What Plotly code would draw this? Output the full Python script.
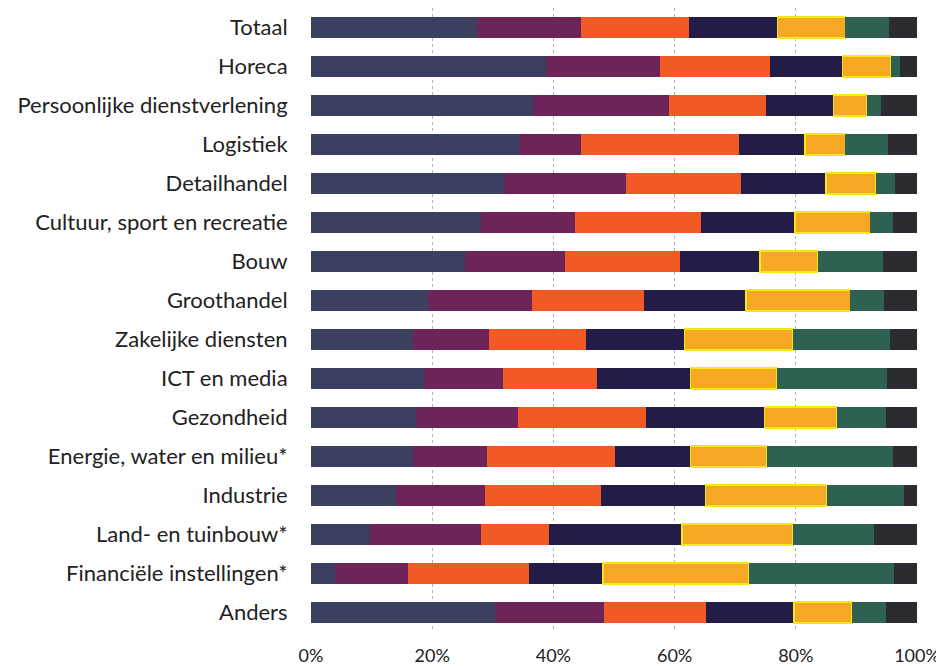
import plotly.graph_objects as go

categories = [
    "Totaal", "Horeca", "Persoonlijke dienstverlening", "Logistiek", "Detailhandel",
    "Cultuur, sport en recreatie", "Bouw", "Groothandel", "Zakelijke diensten",
    "ICT en media", "Gezondheid", "Energie, water en milieu*", "Industrie",
    "Land- en tuinbouw*", "Financiële instellingen*", "Anders",
]

s1 = [27.4, 38.8, 36.6, 34.4, 31.9, 28.1, 25.4, 19.3, 16.8, 18.7, 17.4, 16.8, 14.1, 9.8, 3.9, 30.4]
s2 = [17.2, 18.8, 22.5, 10.2, 20.0, 15.5, 16.5, 17.1, 12.6, 13.0, 16.8, 12.3, 14.6, 18.3, 12.1, 17.9]
s3 = [17.8, 18.1, 15.9, 26.0, 19.1, 20.7, 19.0, 18.5, 16.0, 15.5, 21.0, 21.0, 19.1, 11.2, 20.0, 16.8]
s4 = [14.6, 12.0, 11.2, 10.9, 14.0, 15.6, 13.2, 16.9, 16.2, 15.4, 19.6, 12.5, 17.3, 21.9, 12.2, 14.6]
s5 = [11.2, 8.0, 5.5, 6.7, 8.2, 12.4, 9.5, 17.2, 17.9, 14.3, 12.0, 12.6, 20.0, 18.3, 24.0, 9.6]
s6 = [7.1, 1.5, 2.4, 7.0, 3.2, 3.7, 10.8, 5.6, 16.1, 18.1, 8.1, 20.8, 12.8, 13.4, 24.0, 5.6]
s7 = [4.7, 2.8, 5.9, 4.8, 3.6, 4.0, 5.6, 5.4, 4.4, 5.0, 5.1, 4.0, 2.1, 7.1, 3.8, 5.1]

series = [s1, s2, s3, s4, s5, s6, s7]
colors = ["#3b4060", "#6c2459", "#f15a24", "#231c47", "#f6a825", "#2e6152", "#2b2b31"]
borders = [None, None, None, None, "#f2e81a", None, None]

fig = go.Figure()
for i, vals in enumerate(series):
    line = dict(width=0) if borders[i] is None else dict(width=1.5, color=borders[i])
    fig.add_trace(go.Bar(
        y=categories, x=vals, orientation="h", name=f"S{i+1}",
        marker=dict(color=colors[i], line=line),
    ))

fig.update_layout(
    barmode="stack",
    barnorm="percent",
    bargap=0.46,
    width=936, height=658,
    margin=dict(l=303, r=27, t=0, b=34, autoexpand=False),
    paper_bgcolor="white", plot_bgcolor="white",
    showlegend=False,
    font=dict(family="Lato, Open Sans, sans-serif", size=16, color="#222222"),
)
fig.update_yaxes(
    autorange="reversed", categoryorder="array", categoryarray=categories,
    showgrid=False, zeroline=False, ticks="outside", ticklen=18, tickcolor="rgba(0,0,0,0)",
    tickfont=dict(size=22), automargin=False,
)
fig.update_xaxes(
    range=[0, 100], tickvals=[0, 20, 40, 60, 80, 100],
    ticktext=["0%", "20%", "40%", "60%", "80%", "100%"],
    showgrid=True, gridcolor="#b5b5b5", griddash="dot", gridwidth=1,
    zeroline=False, showline=False, ticks="outside", ticklen=7,
    tickcolor="rgba(0,0,0,0)", tickfont=dict(size=18), automargin=False,
)

fig.write_html("out.html")
